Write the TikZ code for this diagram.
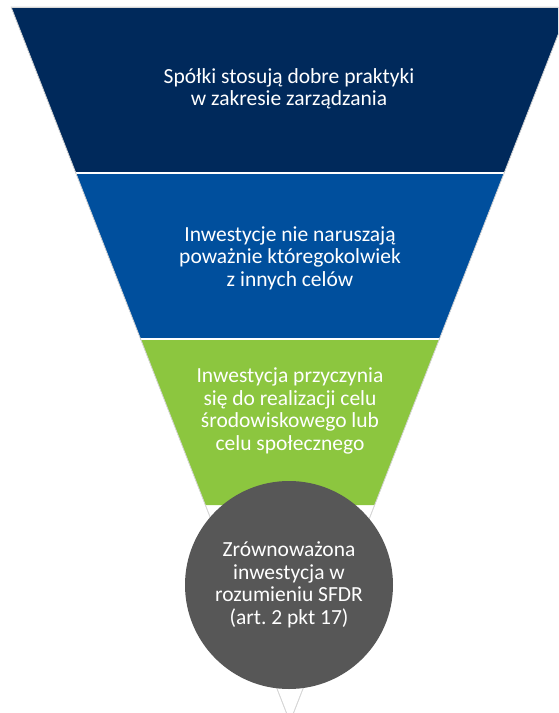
\documentclass[tikz,border=0pt]{standalone}
\usepackage{fontspec}
\setmainfont{Carlito}
\frenchspacing
\definecolor{navyband}{HTML}{00295B}
\definecolor{blueband}{HTML}{004F9D}
\definecolor{greenband}{HTML}{8CC63F}
\definecolor{discgray}{HTML}{575757}
\definecolor{edgegray}{HTML}{D6D6D6}
\tikzset{
  bandtext/.style={text=white, align=center, font=\fontsize{21.5}{22.5}\selectfont, inner sep=0pt},
  disc/.style={circle, fill=discgray, minimum size=208pt, inner sep=0pt, text=white, align=center, font=\fontsize{21.5}{22.5}\selectfont}
}
\begin{document}
\begin{tikzpicture}[x=1pt,y=-1pt]
\useasboundingbox (0,0) rectangle (558,713);
\clip (0,0) rectangle (558,713);
% funnel geometry: apex (290,722), half-width 0.39*(722-y)
\coordinate (apex) at (290,722);
\coordinate (tl) at (11.15,7);
\coordinate (tr) at (568.85,7);
% outer outline
\draw[edgegray, line width=0.7pt] (tl) -- (tr) -- (apex) -- cycle;
% bands
\fill[navyband] (11.15,7) -- (568.85,7) -- (504.11,173) -- (75.89,173) -- cycle;
\fill[blueband] (75.89,173) -- (504.11,173) -- (439.37,339) -- (140.63,339) -- cycle;
\fill[greenband] (140.63,339) -- (439.37,339) -- (374.63,505) -- (205.37,505) -- cycle;
\draw[white, line width=1.6pt] (75.89,173) -- (504.11,173);
\draw[white, line width=1.6pt] (140.63,339) -- (439.37,339);
\draw[edgegray, line width=0.7pt] (tl) -- (tr);
\draw[edgegray, line width=0.7pt] (tl) -- (apex) -- (tr);
% texts
\node[bandtext] (t1) at (289,89) {Spółki stosują dobre praktyki\\w zakresie zarządzania};
\node[bandtext] (t2) at (290,258) {Inwestycje nie naruszają\\poważnie któregokolwiek\\z innych celów};
\node[bandtext] (t3) at (290,411) {Inwestycja przyczynia\\się do realizacji celu\\środowiskowego lub\\celu społecznego};
\node[disc] (c) at (289,585) {Zrównoważona\\inwestycja w\\rozumieniu SFDR\\(art. 2 pkt 17)};
\end{tikzpicture}
\end{document}
